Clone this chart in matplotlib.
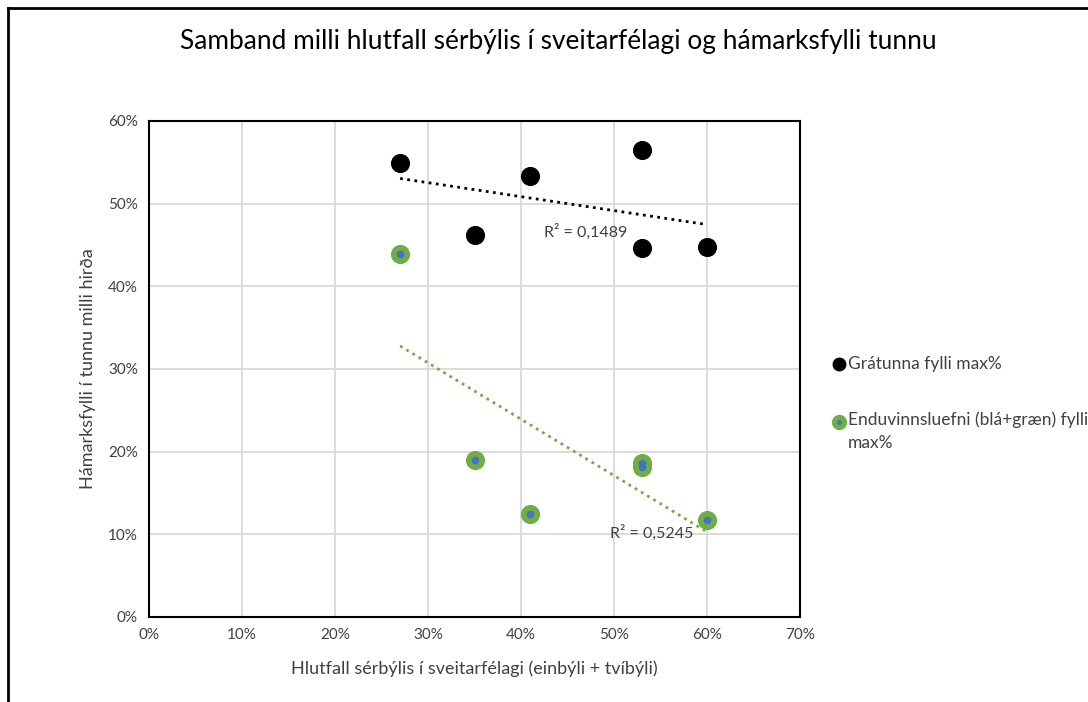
import matplotlib
matplotlib.use("Agg")
import matplotlib.pyplot as plt
import numpy as np
from matplotlib.lines import Line2D
from matplotlib.ticker import FuncFormatter, MultipleLocator

plt.rcParams['font.family'] = ['Lato', 'DejaVu Sans']

title = "Samband milli hlutfall sérbýlis í sveitarfélagi og hámarksfylli tunnu"
xlabel = "Hlutfall sérbýlis í sveitarfélagi (einbýli + tvíbýli)"
ylabel = "Hámarksfylli í tunnu milli hirða"
series_names = ["Grátunna fylli max%", "Enduvinnsluefni (blá+græn) fylli\nmax%"]
r2_labels = ["R² = 0,1489", "R² = 0,5245"]

x_share = [0.27, 0.35, 0.41, 0.53, 0.53, 0.60]
grey_max = [0.549, 0.462, 0.533, 0.565, 0.446, 0.447]
recyc_max = [0.439, 0.190, 0.125, 0.186, 0.181, 0.117]

W, H = 1088, 702
fig = plt.figure(figsize=(W/100, H/100), dpi=100)
ax = fig.add_axes([149/W, 1-617/H, (800-149)/W, (617-121)/H])

green = '#70AD47'
blue = '#4472C4'

x = np.array(x_share)
for yv, col in [(np.array(grey_max), 'black'), (np.array(recyc_max), green)]:
    k, b = np.polyfit(x, yv, 1)
    xs = np.array([x.min(), x.max()])
    ax.plot(xs, k*xs + b, linestyle=(0, (1, 1.6)), color=col, linewidth=2.0, zorder=2)

ax.scatter(x, grey_max, s=190, color='black', zorder=3, linewidths=0)
ax.scatter(x, recyc_max, s=190, color=green, zorder=3, linewidths=0)
ax.scatter(x, recyc_max, s=30, color=blue, zorder=4, linewidths=0)

ax.set_xlim(0, 0.7)
ax.set_ylim(0, 0.6)
ax.xaxis.set_major_locator(MultipleLocator(0.1))
ax.yaxis.set_major_locator(MultipleLocator(0.1))
pct = FuncFormatter(lambda v, p: f"{v*100:.0f}%")
ax.xaxis.set_major_formatter(pct)
ax.yaxis.set_major_formatter(pct)
ax.grid(True, color='#D9D9D9', linewidth=1.3)
ax.set_axisbelow(True)
ax.tick_params(length=0, labelsize=11, colors='#404040', pad=8)
for s in ax.spines.values():
    s.set_color('black')
    s.set_linewidth(1.5)

ax.text(0.47, 0.4655, r2_labels[0], fontsize=11.5, color='#404040', ha='center', va='center')
ax.text(0.54, 0.1016, r2_labels[1], fontsize=11.5, color='#404040', ha='center', va='center')

fig.text(474/W, 1-669/H, xlabel, fontsize=13, color='#404040', ha='center', va='center')
fig.text(88/W, 1-369/H, ylabel, fontsize=13, color='#404040', ha='center', va='center', rotation=90)
fig.text(558/W, 1-42/H, title, fontsize=18.9, color='black', ha='center', va='center')

# legend
fig.add_artist(Line2D([839/W], [1-364/H], marker='o', markersize=9, color='black', linestyle='none'))
fig.text(848/W, 1-364/H, series_names[0], fontsize=12.5, color='#404040', ha='left', va='center')
fig.add_artist(Line2D([839/W], [1-422/H], marker='o', markersize=10, color=green, linestyle='none'))
fig.add_artist(Line2D([839/W], [1-422/H], marker='o', markersize=2.5, color=blue, linestyle='none'))
fig.text(848/W, 1-411/H, series_names[1], fontsize=12.5, color='#404040', ha='left', va='top',
         linespacing=1.6)

# outer frame
fig.add_artist(Line2D([8/W, 8/W], [1-8/H, 0], color='black', linewidth=2))
fig.add_artist(Line2D([8/W, 1], [1-8/H, 1-8/H], color='black', linewidth=2))

fig.savefig("out.png", dpi=100)
